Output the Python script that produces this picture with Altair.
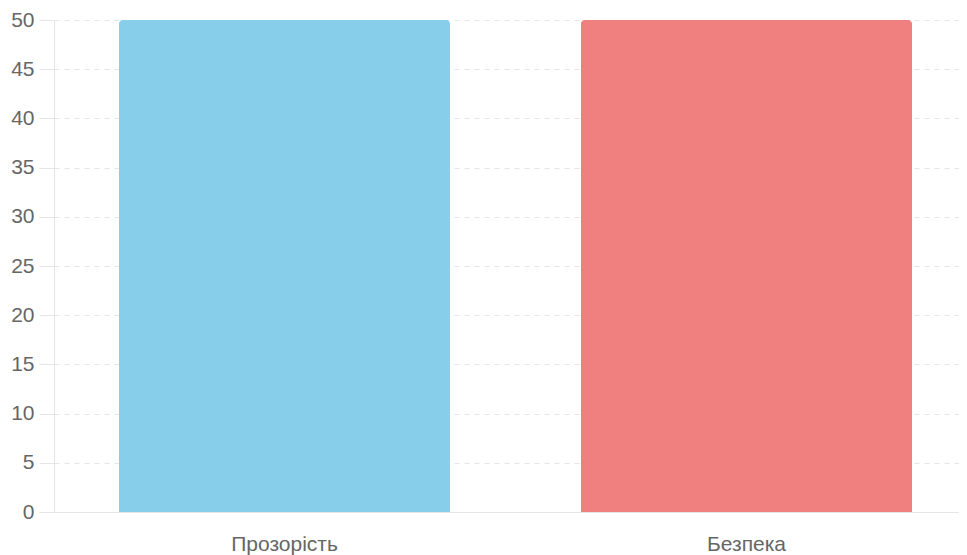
import altair as alt
import pandas as pd

categories = ["Прозорість", "Безпека"]
values = [50, 50]
colors = ["#87CEEB", "#F08080"]
y_ticks = [0, 5, 10, 15, 20, 25, 30, 35, 40, 45, 50]

df = pd.DataFrame({"cat": categories, "val": values, "color": colors})

FONT = "Liberation Sans"

chart = alt.Chart(df).mark_bar(
    cornerRadiusTopLeft=4, cornerRadiusTopRight=4, strokeWidth=1
).encode(
    x=alt.X("cat:N", sort=categories,
            scale=alt.Scale(paddingInner=0.2835, paddingOuter=0.1212, align=0.5804),
            axis=alt.Axis(title=None, labelAngle=0, ticks=False, grid=False,
                          domainColor="#e5e5e5", domainWidth=1,
                          labelFontSize=21, labelColor="#666666", labelFont=FONT,
                          labelPadding=38, labelBaseline="alphabetic")),
    y=alt.Y("val:Q", scale=alt.Scale(domain=[0, 50], nice=False),
            axis=alt.Axis(title=None, values=y_ticks, grid=True,
                          gridDash=[5, 5], gridColor="#e5e5e5",
                          tickColor="#e5e5e5", tickSize=15,
                          domainColor="#e5e5e5",
                          labelFontSize=21, labelColor="#666666", labelFont=FONT,
                          labelPadding=5)),
    color=alt.Color("color:N", scale=None),
    stroke=alt.Color("color:N", scale=None),
).properties(
    width=905, height=492,
    autosize=alt.AutoSizeParams(type="none"),
    padding={"left": 46, "top": 12, "right": 0, "bottom": 46},
).configure_view(stroke=None)

chart.save("out.html", embed_options={"renderer": "svg", "actions": False})
